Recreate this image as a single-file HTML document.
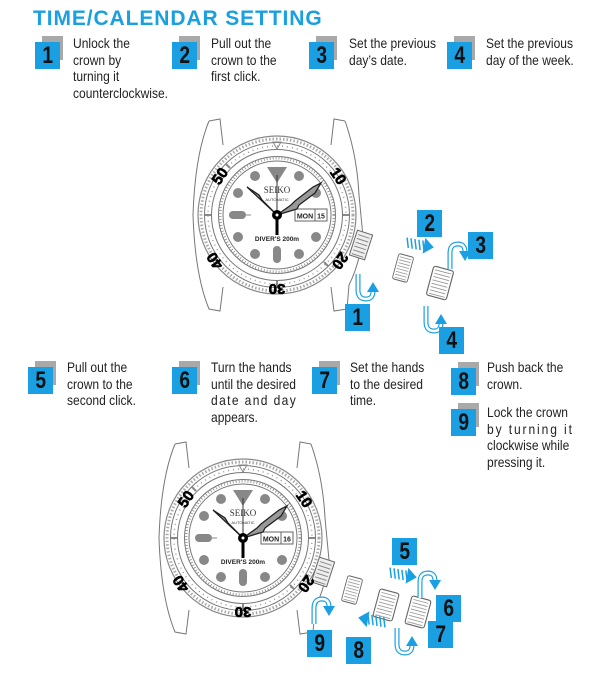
<!DOCTYPE html>
<html><head><meta charset="utf-8"><style>
html,body{margin:0;padding:0;background:#fff}
body{width:615px;height:691px;position:relative;overflow:hidden;font-family:"Liberation Sans",sans-serif}
.t{position:absolute;font-size:14px;line-height:16.5px;color:#222;white-space:nowrap;transform:scaleX(0.86);transform-origin:0 0}
.title{position:absolute;left:33px;top:7px;font:bold 21px "Liberation Sans",sans-serif;color:#1a9fe0;letter-spacing:0.9px}
.b{position:absolute;width:25px;height:27px}
.b .g{position:absolute;left:7px;top:-6px;width:21px;height:24px;background:#a9a9a9}
.b .bl{position:absolute;left:0;top:0;width:25px;height:27px;background:#1aa0e2;color:#111;font:bold 24px "Liberation Sans",sans-serif;text-align:center;line-height:28px}
.b .bl span{display:inline-block;transform:scaleX(0.8)}
svg{position:absolute;left:0;top:0}
</style></head><body>
<div class="title">TIME/CALENDAR SETTING</div>

<div class="b" style="left:35px;top:42px"><div class="g"></div><div class="bl"><span>1</span></div></div>
<div class="t" style="left:73px;top:35px">Unlock the<br>crown by<br>turning it<br>counterclockwise.</div>
<div class="b" style="left:172px;top:42px"><div class="g"></div><div class="bl"><span>2</span></div></div>
<div class="t" style="left:211px;top:35px">Pull out the<br>crown to the<br>first click.</div>
<div class="b" style="left:309px;top:42px"><div class="g"></div><div class="bl"><span>3</span></div></div>
<div class="t" style="left:349px;top:35px">Set the previous<br>day’s date.</div>
<div class="b" style="left:447px;top:42px"><div class="g"></div><div class="bl"><span>4</span></div></div>
<div class="t" style="left:486px;top:35px">Set the previous<br>day of the week.</div>

<div class="b" style="left:28px;top:367px"><div class="g"></div><div class="bl"><span>5</span></div></div>
<div class="t" style="left:67px;top:359px">Pull out the<br>crown to the<br>second click.</div>
<div class="b" style="left:172px;top:367px"><div class="g"></div><div class="bl"><span>6</span></div></div>
<div class="t" style="left:211px;top:359px">Turn the hands<br>until the desired<br><span style="letter-spacing:1.6px">date and day</span><br>appears.</div>
<div class="b" style="left:312px;top:367px"><div class="g"></div><div class="bl"><span>7</span></div></div>
<div class="t" style="left:350px;top:359px">Set the hands<br>to the desired<br>time.</div>
<div class="b" style="left:451px;top:368px"><div class="g"></div><div class="bl"><span>8</span></div></div>
<div class="t" style="left:487px;top:359px">Push back the<br>crown.</div>
<div class="b" style="left:451px;top:409px"><div class="g"></div><div class="bl"><span>9</span></div></div>
<div class="t" style="left:487px;top:404px">Lock the crown<br><span style="letter-spacing:2.2px">by turning it</span><br>clockwise while<br>pressing it.</div>

<svg width="615" height="691" viewBox="0 0 615 691">
<defs>
<g id="watch" fill="none" stroke="#777" stroke-width="1">
  <path d="M-68,-94 L-57,-96 L-54,-70 M-68,-94 Q-82,-60 -84,0 Q-82,60 -68,94 L-57,96 L-54,72"/>
  <path d="M68,-94 L57,-96 L54,-70 M68,-94 Q80,-60 82,-20 L86,22 Q82,50 72,70 L70,94 L57,96 L54,72"/>
  <circle r="79" stroke="#888" stroke-width="1.2"/>
  <circle r="76" stroke="#aaa" stroke-width="3" stroke-dasharray="1.5 2"/>
  <circle r="72.5"/>
  <circle r="69" stroke="#999" stroke-width="1.5" stroke-dasharray="1 4"/>
  <circle r="65.5"/>
  <circle r="58.5"/>
  <circle r="57" stroke="#888" stroke-width="3" stroke-dasharray="0.8 2.2"/>
  <circle r="54" fill="#fff"/>
  <path d="M-4,-73 L4,-73 L0,-66 Z" stroke="#888"/>
  <path d="M-66,0 h-6 M66,0 h6 M0,66 v6 M-47,-47 l-4,-4 M47,47 l4,4" stroke="#888" stroke-width="2"/>
  <g fill="#888" stroke="none">
    <path d="M-10,-48 L10,-48 L0,-32 Z"/>
    <circle cx="-22" cy="-39" r="5"/><circle cx="22" cy="-39" r="5"/>
    <circle cx="-39" cy="-22" r="5"/><circle cx="39" cy="-22" r="5"/>
    <circle cx="-39" cy="22" r="5"/><circle cx="39" cy="22" r="5"/>
    <circle cx="-22" cy="39" r="5"/><circle cx="22" cy="39" r="5"/>
    <rect x="-48" y="-4" width="17" height="8" rx="4"/>
    <rect x="-4" y="31" width="8" height="17" rx="4"/>
  </g>
  <path d="M-31,0 h5 M0,-31 v3" stroke="#888"/>
  <rect x="18" y="-6" width="32" height="12" fill="#fff" stroke="#666"/>
  <line x1="38" y1="-6" x2="38" y2="6" stroke="#666"/>
  <path d="M0,0 L-30,-28 L-18,-20 L-15,-15 Z" fill="#999" stroke="#222" stroke-width="1.3"/>
  <path d="M0,0 L14,-10 L18,-14 L36,-28 L44,-32 L38,-22 L22,-10 L20,-6 Z" fill="#999" stroke="#222" stroke-width="1.3"/>
  <line x1="0" y1="0" x2="0" y2="20" stroke="#000" stroke-width="3"/>
  <line x1="0" y1="0" x2="0" y2="-40" stroke="#333" stroke-width="1"/>
  <circle r="5" fill="#000" stroke="none"/>
  <circle r="1.5" fill="#fff" stroke="none"/>
</g>
<g id="crown" stroke="#666" fill="#fff" stroke-width="1">
  <rect x="-9" y="-13" width="18" height="26" rx="2"/>
  <path d="M-7,-10 h14 M-7,-7 h14 M-7,-4 h14 M-7,-1 h14 M-7,2 h14 M-7,5 h14 M-7,8 h14 M-7,11 h14" stroke="#999" stroke-width="0.8"/>
</g>
<g id="hook" fill="none" stroke="#1aa0e2">
  <path d="M-6,-12 L-6,4 Q-6,13 2,13 Q9,13 9,5" stroke-width="5"/>
  <path d="M-6,-12 L-6,4 Q-6,13 2,13 Q9,13 9,5" stroke="#fff" stroke-width="2.6"/>
  <path d="M3,6 L9,-4 L15,6 Z" fill="#1aa0e2" stroke="none"/>
</g>
<g id="stripe">
  <path d="M-14,-5 l3,10 M-10,-5 l3,10 M-6,-5 l3,10 M-2,-5 l3,10 M2,-5 l3,10" stroke="#1aa0e2" stroke-width="1.5"/>
  <path d="M4,-8 L14,0 L4,8 Z" fill="#1aa0e2"/>
</g>
</defs>

<g transform="translate(277,215)">
  <use href="#watch"/>
  <g transform="translate(84,30) rotate(18)"><rect x="-8" y="-13" width="16" height="26" fill="#eee" stroke="#666"/><path d="M-6,-9 h12 M-6,-5 h12 M-6,-1 h12 M-6,3 h12 M-6,7 h12 M-6,11 h12" stroke="#888"/></g>
  <g font-family="Liberation Sans,sans-serif" font-weight="bold" font-size="15" fill="#000" stroke="#000" stroke-width="0.6" text-anchor="middle">
    <text transform="translate(-53,-36) rotate(-55)">50</text>
    <text transform="translate(57,-36) rotate(55)">10</text>
    <text transform="translate(-58,43) rotate(-125)">40</text>
    <text transform="translate(59,43) rotate(125)">20</text>
    <text transform="translate(0,69) rotate(180)">30</text>
  </g>
  <text x="0" y="-22" font-family="Liberation Serif,serif" font-size="9" text-anchor="middle" fill="#333">SEIKO</text>
  <text x="0" y="-14" font-family="Liberation Sans,sans-serif" font-size="4" text-anchor="middle" fill="#333">AUTOMATIC</text>
  <text x="28" y="3.5" font-family="Liberation Sans,sans-serif" font-weight="bold" font-size="7" text-anchor="middle" fill="#222">MON</text>
  <text x="44" y="3.5" font-family="Liberation Sans,sans-serif" font-weight="bold" font-size="7" text-anchor="middle" fill="#222">15</text>
  <text x="0" y="26" font-family="Liberation Sans,sans-serif" font-weight="bold" font-size="6.5" text-anchor="middle" fill="#222">DIVER'S 200m</text>
</g>
<g transform="translate(403,268) rotate(15) scale(0.85,1)"><use href="#crown"/></g>
<g transform="translate(440,283) rotate(15) scale(1.15,1.15)"><use href="#crown"/></g>
<g transform="translate(420,245) rotate(10)"><use href="#stripe"/></g>
<g transform="translate(364,286)"><use href="#hook"/></g>
<g transform="translate(456,257) rotate(180) scale(-1,1)"><use href="#hook"/></g>
<g transform="translate(432,318)"><use href="#hook"/></g>

<g transform="translate(243,538)">
  <use href="#watch"/>
  <g transform="translate(80,34) rotate(18)"><rect x="-8" y="-13" width="16" height="26" fill="#eee" stroke="#666"/><path d="M-6,-9 h12 M-6,-5 h12 M-6,-1 h12 M-6,3 h12 M-6,7 h12 M-6,11 h12" stroke="#888"/></g>
  <g font-family="Liberation Sans,sans-serif" font-weight="bold" font-size="15" fill="#000" stroke="#000" stroke-width="0.6" text-anchor="middle">
    <text transform="translate(-53,-36) rotate(-55)">50</text>
    <text transform="translate(57,-36) rotate(55)">10</text>
    <text transform="translate(-58,43) rotate(-125)">40</text>
    <text transform="translate(59,43) rotate(125)">20</text>
    <text transform="translate(0,69) rotate(180)">30</text>
  </g>
  <text x="0" y="-22" font-family="Liberation Serif,serif" font-size="9" text-anchor="middle" fill="#333">SEIKO</text>
  <text x="0" y="-14" font-family="Liberation Sans,sans-serif" font-size="4" text-anchor="middle" fill="#333">AUTOMATIC</text>
  <text x="28" y="3.5" font-family="Liberation Sans,sans-serif" font-weight="bold" font-size="7" text-anchor="middle" fill="#222">MON</text>
  <text x="44" y="3.5" font-family="Liberation Sans,sans-serif" font-weight="bold" font-size="7" text-anchor="middle" fill="#222">16</text>
  <text x="0" y="26" font-family="Liberation Sans,sans-serif" font-weight="bold" font-size="6.5" text-anchor="middle" fill="#222">DIVER'S 200m</text>
</g>
<g transform="translate(352,590) rotate(15) scale(0.85,1)"><use href="#crown"/></g>
<g transform="translate(386,605) rotate(15) scale(1.1,1.1)"><use href="#crown"/></g>
<g transform="translate(418,612) rotate(15) scale(1.1,1.1)"><use href="#crown"/></g>
<g transform="translate(403,575) rotate(10)"><use href="#stripe"/></g>
<g transform="translate(372,620) rotate(190)"><use href="#stripe"/></g>
<g transform="translate(320,612) scale(-1,1) rotate(180)"><use href="#hook"/></g>
<g transform="translate(426,586) rotate(180) scale(-1,1)"><use href="#hook"/></g>
<g transform="translate(403,640)"><use href="#hook"/></g>
</svg>

<div class="b" style="left:417px;top:210px"><div class="bl"><span>2</span></div></div>
<div class="b" style="left:468px;top:232px"><div class="bl"><span>3</span></div></div>
<div class="b" style="left:345px;top:304px"><div class="bl"><span>1</span></div></div>
<div class="b" style="left:439px;top:327px"><div class="bl"><span>4</span></div></div>
<div class="b" style="left:392px;top:538px"><div class="bl"><span>5</span></div></div>
<div class="b" style="left:436px;top:595px"><div class="bl"><span>6</span></div></div>
<div class="b" style="left:428px;top:621px"><div class="bl"><span>7</span></div></div>
<div class="b" style="left:307px;top:630px"><div class="bl"><span>9</span></div></div>
<div class="b" style="left:346px;top:637px"><div class="bl"><span>8</span></div></div>
</body></html>
